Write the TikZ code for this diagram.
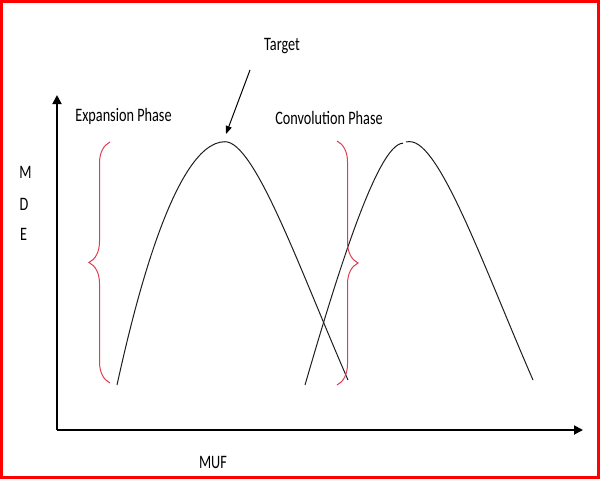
\documentclass[tikz,border=0pt]{standalone}
\usepackage{fontspec}
\setmainfont{Carlito}
\usetikzlibrary{arrows.meta,decorations.pathreplacing}
\definecolor{framered}{RGB}{255,0,0}
\definecolor{bracered}{RGB}{225,60,80}
\definecolor{curvegray}{RGB}{30,30,30}
\newcommand{\lbltext}[1]{\scalebox{0.75}[1]{#1}}
\begin{document}
\begin{tikzpicture}[x=1pt,y=-1pt,
  lbl/.style={anchor=base,inner sep=0pt,font=\fontsize{19}{22}\selectfont},
  axisline/.style={line width=1.8pt,-{Triangle[length=9pt,width=9pt]}},
  curveline/.style={line width=1pt,draw=curvegray},
  pointer/.style={line width=1pt,-{Triangle[length=8pt,width=6pt]}},
  bracestyle/.style={draw=bracered,line width=1pt,decorate,
    decoration={brace,amplitude=21pt,aspect=0.5}}]
\useasboundingbox (0,0) rectangle (600,479);
\fill[white] (0,0) rectangle (600,479);
\draw[framered,line width=3pt] (1.5,1.5) rectangle (598.5,477.5);
% axes
\coordinate (O) at (57,430);
\coordinate (ytip) at (57,95);
\coordinate (xtip) at (583,430);
\draw[axisline] (O) -- (ytip);
\draw[axisline] (O) -- (xtip);
% labels
\node[lbl] (target) at (282,50) {\lbltext{Target}};
\node[lbl] (expansion) at (123.5,121.5) {\lbltext{Expansion Phase}};
\node[lbl] (convolution) at (329,124) {\lbltext{Convolution Phase}};
\node[lbl] (m) at (25.5,178) {\lbltext{M}};
\node[lbl] (d) at (24,210) {\lbltext{D}};
\node[lbl] (e) at (23.5,240) {\lbltext{E}};
\node[lbl] (muf) at (213,468) {\lbltext{MUF}};
% curves
\coordinate (c1s) at (117,385);
\coordinate (c1p) at (225,141.7);
\coordinate (c1e) at (348,380);
\draw[curveline] (c1s) parabola[bend at end] (c1p)
  .. controls (255,141.7) and (300,270) .. (c1e);
\coordinate (c2s) at (305,385);
\coordinate (c2g) at (403,143.2);
\coordinate (c2h) at (406,141.8);
\coordinate (c2p) at (410,141.7);
\coordinate (c2e) at (533,380);
\draw[curveline] (c2s) .. controls (335,282) and (377,143.5) .. (c2g);
\draw[curveline] (c2h) -- (c2p) .. controls (440,141.7) and (485,270) .. (c2e);
% target pointer
\coordinate (tstart) at (250,70);
\coordinate (tend) at (226,134);
\draw[pointer] (tstart) -- (tend);
% braces
\coordinate (b1a) at (110,383);
\coordinate (b1b) at (110,142);
\coordinate (b2a) at (337,141);
\coordinate (b2b) at (337,385);
\draw[bracestyle] (b1a) -- (b1b);
\draw[bracestyle] (b2a) -- (b2b);
\end{tikzpicture}
\end{document}
